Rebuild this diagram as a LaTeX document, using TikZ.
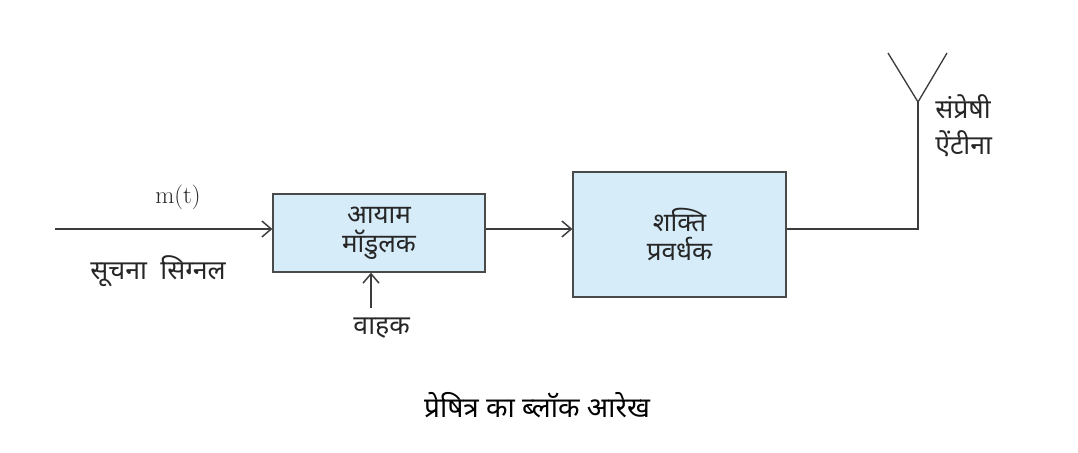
\documentclass[tikz,border=0pt]{standalone}
\usepackage{fontspec}
\newfontfamily\hindi[Script=Devanagari]{Noto Sans}
\usetikzlibrary{arrows.meta, positioning}
\definecolor{blockblue}{HTML}{D6ECF9}
\definecolor{blockborder}{HTML}{4A4A4A}
\definecolor{wiregray}{HTML}{3C3C3C}
\definecolor{textgray}{HTML}{262626}

\begin{document}
\begin{tikzpicture}[
      x=0.75pt, y=-0.75pt,
      block/.style={draw=blockborder, fill=blockblue, line width=1pt,
        align=center, inner sep=0pt, text=textgray,
        font=\hindi\fontsize{19.5}{21.5}\selectfont},
      wire/.style={draw=wiregray, line width=1pt},
      lbl/.style={text=textgray, align=left, inner sep=0pt,
        font=\hindi\fontsize{20}{27}\selectfont},
      >={Straight Barb[length=7pt, width=12pt, line width=1.1pt]}
    ]
      \useasboundingbox (0,0) rectangle (1078,453);
      % blocks
      \node[block, minimum width=159pt, minimum height=58.5pt] (mod)
        at (379,233) {आयाम\\मॉडुलक};
      \node[block, minimum width=159.75pt, minimum height=93.75pt] (amp)
        at (679.5,234.5) {शक्ति\\प्रवर्धक};
      % signal path
      \coordinate (src) at (55,229);
      \coordinate (carrier) at (371,308);
      \coordinate (feed) at (918,229);
      \coordinate (tip) at (918,102);
      \coordinate (armL) at (888,53);
      \coordinate (armR) at (947,53);
      \draw[wire, ->] (src) -- (src -| mod.west);
      \draw[wire, ->] (src -| mod.east) -- (src -| amp.west);
      \draw[wire, ->] (carrier) -- (carrier |- mod.south);
      \draw[wire] (src -| amp.east) -- (feed) -- (tip);
      \draw[wire] (armL) -- (tip) -- (armR);
      % labels
      \node[text=textgray, font=\fontsize{18.5}{20}\selectfont] (mt)
        at (178,197) {m(t)};
      \node[lbl] (info) at (158,271) {सूचना\enspace सिग्नल};
      \node[lbl, below=7pt of carrier, xshift=8pt] (carrierlbl) {वाहक};
      \node[lbl, anchor=west] (antlbl) at (935,126) {संप्रेषी\\ऐंटीना};
      \node[lbl, text=black, font=\hindi\fontsize{21}{24}\selectfont] (caption)
        at (537,405) {प्रेषित्र का ब्लॉक आरेख};
    \end{tikzpicture}
\end{document}
